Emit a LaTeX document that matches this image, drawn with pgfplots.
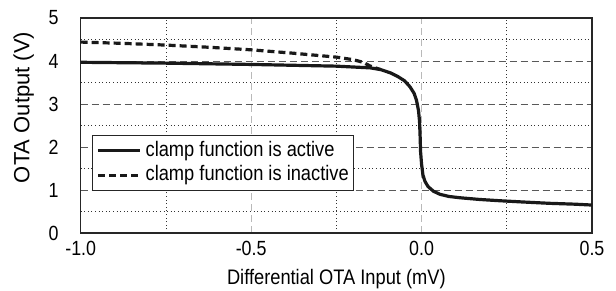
\documentclass[border=0pt]{standalone}
\usepackage{pgfplots}
\pgfplotsset{compat=1.18}
\usepackage{fontspec}
\setmainfont{Liberation Sans}[FakeStretch=0.87]
\newfontfamily\widefont{Liberation Sans}
\begin{document}
\begin{tikzpicture}
\path[use as bounding box] (-80.7pt,-58pt) rectangle (535.3pt,233pt);
\begin{axis}[
  at={(0pt,0pt)}, anchor=south west,
  scale only axis,
  width=511.3pt, height=215pt,
  xmin=-1, xmax=0.5, ymin=0, ymax=5,
  xtick={-1,-0.5,0,0.5},
  xticklabels={-1.0,-0.5,0.0,0.5},
  minor xtick={-0.75,-0.25,0.25},
  ytick={0,1,2,3,4,5},
  minor ytick={0.5,1.5,2.5,3.5,4.5},
  major tick length=0pt, minor tick length=0pt,
  grid=both,
  major x grid style={gray!55, line width=1.1pt, dash pattern=on 7pt off 4pt},
  major y grid style={black!65, line width=0.9pt, dash pattern=on 7pt off 4pt},
  minor grid style={black!80, line width=0.8pt, dash pattern=on 1pt off 2.6pt},
  axis line style={line width=1.4pt, black!85},
  /pgf/number format/assume math mode=true,
  xticklabel style={font=\fontsize{20.5}{22}\selectfont, inner sep=0pt, anchor=north, yshift=-8pt},
  yticklabel style={font=\fontsize{20.5}{22}\selectfont, inner sep=0pt, anchor=east, xshift=-22pt},
  xlabel={Differential OTA Input (mV)},
  ylabel={\widefont OTA Output (V)},
  xlabel style={font=\fontsize{21}{24}\selectfont, at={(axis description cs:0.5,0)}, anchor=base, yshift=-52pt, inner sep=0pt},
  ylabel style={font=\fontsize{22}{24}\selectfont, at={(axis description cs:0,0.584)}, anchor=center, yshift=57pt, inner sep=0pt},
  legend style={at={(0.022,0.456)}, anchor=north west, draw=black!85, line width=1.4pt, fill=white,
    inner sep=4pt, row sep=2pt, column sep=3pt,
    font=\fontsize{21}{24}\selectfont,
    nodes={inner sep=1pt, text height=15.5pt, text depth=5pt}},
  legend cell align=left,
  legend image code/.code={\draw[#1, line width=3pt] (7pt,0pt) -- (49pt,0pt);},
]
\addplot[black!90, line width=3.2pt, line join=round] coordinates {
(-1.0,3.97)(-0.75,3.95)(-0.5,3.92)(-0.25,3.88)(-0.15,3.84)(-0.12,3.80)(-0.09,3.72)(-0.07,3.64)(-0.05,3.54)(-0.034,3.40)(-0.022,3.25)(-0.015,3.09)(-0.009,2.85)(-0.006,2.6)(-0.004,2.2)(-0.003,1.9)(0.0,1.6)(0.004,1.35)(0.010,1.2)(0.019,1.08)(0.035,0.97)(0.054,0.90)(0.08,0.85)(0.112,0.82)(0.17,0.78)(0.23,0.75)(0.30,0.72)(0.376,0.69)(0.45,0.67)(0.5,0.65)
};
\addlegendentry{clamp function is active}
\addplot[black!90, line width=3.2pt, dash pattern=on 7pt off 4pt] coordinates {
(-1.0,4.44)(-0.875,4.41)(-0.75,4.37)(-0.625,4.32)(-0.5,4.26)(-0.375,4.18)(-0.25,4.09)(-0.2,4.03)(-0.172,3.97)(-0.15,3.88)(-0.12,3.80)
};
\addlegendentry{clamp function is inactive}
\end{axis}
\end{tikzpicture}
\end{document}
